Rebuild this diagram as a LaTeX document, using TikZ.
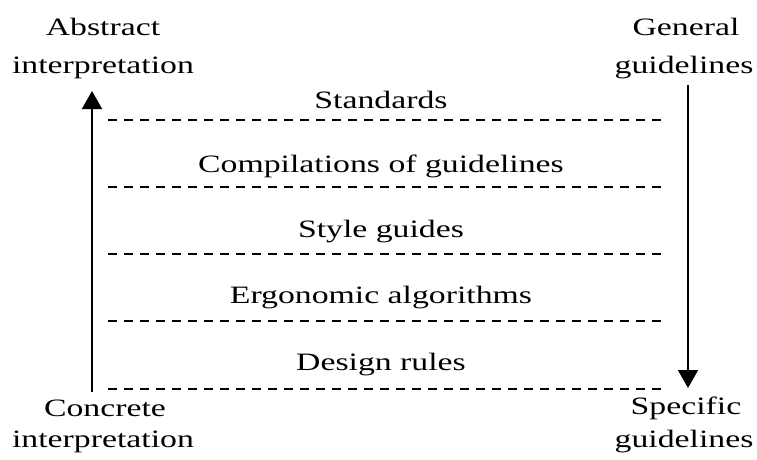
\documentclass[tikz,border=0pt]{standalone}
\usepackage{fontspec}
\setmainfont{Liberation Serif}[FakeStretch=1.35]
\usetikzlibrary{arrows.meta}
\begin{document}
\begin{tikzpicture}[x=1pt,y=-1pt,
  lbl/.style={font=\fontsize{25}{30}\selectfont, inner sep=0pt, anchor=center},
  sep/.style={dashed, dash pattern=on 9pt off 7pt, line width=1.6pt},
  vert/.style={line width=1.8pt, -{Triangle[length=18pt,width=20pt]}}]
\useasboundingbox (0,0) rectangle (757,460);
\node[lbl] (abs1) at (103,27) {Abstract};
\node[lbl] (abs2) at (103,68) {interpretation};
\node[lbl] (gen1) at (686,27) {General};
\node[lbl] (gen2) at (684,68) {guidelines};
\node[lbl] (con1) at (105,408) {Concrete};
\node[lbl] (con2) at (103,442) {interpretation};
\node[lbl] (spe1) at (686,408) {Specific};
\node[lbl] (spe2) at (684,442) {guidelines};
\node[lbl] (l1) at (381,100) {Standards};
\node[lbl] (l2) at (381,166) {Compilations of guidelines};
\node[lbl] (l3) at (381,232) {Style guides};
\node[lbl] (l4) at (381,298) {Ergonomic algorithms};
\node[lbl] (l5) at (381,365) {Design rules};
\coordinate (la) at (92,392);
\coordinate (lb) at (92,91);
\coordinate (ra) at (688,85);
\coordinate (rb) at (688,388);
\draw[vert] (la) -- (lb);
\draw[vert] (ra) -- (rb);
\foreach \y/\n in {120/d1,187/d2,254/d3,321/d4,389/d5}{
  \coordinate (\n a) at (108,\y);
  \coordinate (\n b) at (668,\y);
  \draw[sep] (\n a) -- (\n b);
}
\end{tikzpicture}
\end{document}
